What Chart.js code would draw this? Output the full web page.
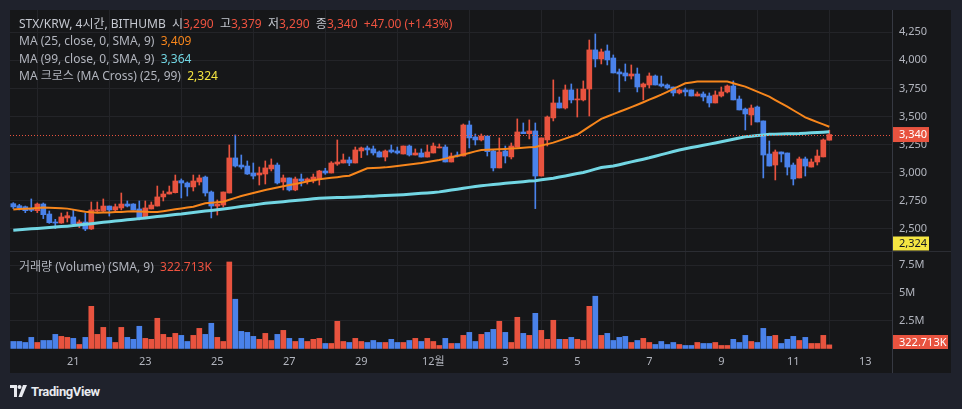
<!DOCTYPE html>
<html><head><meta charset="utf-8">
<script src="https://cdn.jsdelivr.net/npm/chart.js@4.4.1/dist/chart.umd.min.js"></script>
<style>
html,body{margin:0;padding:0;background:#1f222c;width:962px;height:409px;overflow:hidden;font-family:"Noto Sans","Noto Sans CJK KR",sans-serif;}
#frame{position:absolute;left:10px;top:10px;width:941px;height:363px;background:#161719;}
.cv{position:absolute;left:10px;}
#w1{top:10px;width:941px;height:241px}
#w2{top:252px;width:941px;height:121px}
#sep{position:absolute;left:10px;top:251px;width:941px;height:1px;background:#2b2d33}
#vline{position:absolute;left:892px;top:10px;width:1px;height:363px;background:#363942}
.leg{position:absolute;left:19px;font-size:12px;color:#b2b5be;white-space:nowrap;line-height:16px}
.r{color:#ef5340}
.o{color:#f7861c}
.c{color:#72d6e3}
.y{color:#f5e642}
#logo{position:absolute;left:10px;top:383px;height:16px;display:flex;align-items:center;color:#e8eaef;font-family:Roboto,"Noto Sans",sans-serif;font-weight:bold;font-size:13px;letter-spacing:-0.4px}
</style></head>
<body>
<div id="frame"></div>
<div class="cv" id="w1"><canvas id="c1" width="941" height="241"></canvas></div>
<div id="sep"></div>
<div class="cv" id="w2"><canvas id="c2" width="941" height="121"></canvas></div>
<div id="vline"></div>
<div class="leg" style="top:16px;color:#c5c8d0">STX/KRW, 4시간, BITHUMB&nbsp; 시<span class="r">3,290</span>&nbsp; 고<span class="r">3,379</span>&nbsp; 저<span class="r">3,290</span>&nbsp; 종<span class="r">3,340</span>&nbsp; <span class="r">+47.00 (+1.43%)</span></div>
<div class="leg" style="top:33px">MA (25, close, 0, SMA, 9)&nbsp; <span class="o">3,409</span></div>
<div class="leg" style="top:51px">MA (99, close, 0, SMA, 9)&nbsp; <span class="c">3,364</span></div>
<div class="leg" style="top:68px">MA 크로스 (MA Cross) (25, 99)&nbsp; <span class="y">2,324</span></div>
<div class="leg" style="top:259px">거래량 (Volume) (SMA, 9)&nbsp; <span class="r">322.713K</span></div>
<div id="logo"><svg width="18" height="12" viewBox="0 0 18 12"><path d="M0 0h7v12H4V3H0z" fill="#e8eaef"/><circle cx="9.5" cy="2" r="2" fill="#e8eaef"/><path d="M13 0h4l-5 12H8.5z" fill="#e8eaef"/></svg><span style="margin-left:3px">TradingView</span></div>
<script>
// ---- data (4-hour candles, STX/KRW, from Nov 19 08:00) ----
const open = [
2725,2707,2698,2681,2663,2722,2633,2562,2553,2598,
2607,2547,2562,2500,2660,2660,2704,2669,2687,2722,
2722,2678,2598,2678,2704,2785,2811,2823,2930,2909,
2874,2918,2962,2829,2704,2713,2820,3132,3069,3060,
2998,2980,2989,3034,3069,2918,2954,2847,2945,2927,
2927,2945,3016,2998,3078,3087,3114,3087,3194,3221,
3212,3185,3140,3203,3194,3167,3238,3158,3176,3140,
3176,3221,3229,3096,3158,3149,3425,3318,3292,3327,
3194,3043,3194,3141,3229,3363,3348,3372,2971,3292,
3488,3621,3576,3737,3648,3648,3745,4093,4012,4084,
4021,3897,3888,3861,3879,3763,3781,3861,3790,3781,
3763,3710,3737,3737,3683,3701,3683,3621,3683,3719,
3772,3656,3567,3514,3585,3461,3167,3069,3185,3176,
3069,2954,3123,3051,3096,3141,3290];
const high = [
2734,2719,2704,2767,2731,2731,2660,2586,2642,2651,
2669,2580,2642,2740,2740,2767,2704,2722,2820,2749,
2725,2749,2749,2740,2882,2838,2882,2980,2945,2918,
2980,2980,2971,2838,2758,2829,3247,3336,3158,3105,
3087,3051,3105,3123,3087,2980,2954,2962,2989,2954,
2989,3022,3040,3099,3292,3167,3140,3229,3229,3238,
3238,3194,3203,3247,3229,3238,3247,3212,3212,3247,
3265,3256,3247,3176,3185,3434,3461,3345,3345,3327,
3203,3310,3238,3265,3479,3443,3470,3443,3310,3505,
3826,3674,3781,3790,3745,3817,4181,4235,4101,4137,
4048,3923,3968,3959,3932,3799,3888,3870,3861,3790,
3763,3745,3754,3737,3719,3719,3710,3728,3763,3781,
3817,3683,3576,3603,3594,3461,3283,3203,3185,3176,
3087,3140,3140,3123,3203,3301,3379];
const low = [
2681,2669,2645,2654,2645,2592,2550,2503,2550,2562,
2540,2512,2485,2495,2651,2655,2615,2651,2669,2696,
2669,2580,2598,2678,2704,2749,2811,2820,2776,2793,
2838,2891,2793,2598,2624,2696,2820,3051,3034,2985,
2945,2891,2900,3016,2900,2847,2838,2840,2882,2900,
2910,2891,2986,2998,3066,3087,3063,3087,3135,3158,
3158,3140,3105,3176,3167,3167,3149,3158,3140,3140,
3176,3221,3096,3096,3140,3149,3221,3247,3283,3149,
3016,3043,3087,3123,3229,3348,3301,2681,2971,3238,
3461,3576,3567,3621,3496,3639,3505,3941,3968,3959,
3888,3719,3817,3834,3719,3648,3754,3781,3763,3745,
3683,3701,3683,3683,3683,3639,3585,3621,3674,3710,
3648,3559,3381,3425,3452,2954,3060,2936,3096,2980,
2891,2954,2971,3051,3069,3141,3290];
const close = [
2696,2687,2663,2666,2722,2627,2556,2553,2607,2618,
2547,2562,2500,2669,2672,2704,2669,2698,2722,2704,
2669,2598,2687,2713,2785,2811,2829,2927,2909,2874,
2927,2954,2820,2704,2722,2829,3132,3060,3051,2989,
2971,2998,3043,3069,2909,2954,2847,2945,2927,2945,
2962,3016,2998,3087,3096,3114,3087,3203,3221,3203,
3176,3140,3194,3185,3176,3238,3158,3176,3140,3185,
3238,3229,3096,3149,3149,3425,3310,3292,3327,3188,
3043,3185,3149,3238,3363,3348,3372,2971,3310,3496,
3621,3576,3737,3648,3656,3745,4093,4012,4075,4004,
3888,3879,3861,3879,3763,3790,3861,3781,3772,3754,
3710,3737,3719,3683,3701,3674,3621,3692,3719,3772,
3648,3559,3523,3576,3452,3158,3060,3185,3167,3051,
2945,3123,3060,3096,3149,3292,3340];
// volume in millions
const volume = [
0.63,0.63,0.54,1.0,0.54,0.72,0.72,1.27,1.09,1.0,
0.91,0.36,1.0,3.8,1.27,1.9,1.0,0.54,1.9,1.0,
0.82,2.0,0.91,0.82,2.72,1.27,1.0,1.36,1.18,0.63,
1.18,1.81,1.27,2.27,1.0,0.63,7.8,4.44,1.54,1.45,
1.09,0.82,1.36,0.72,1.27,1.63,0.91,0.63,0.91,0.63,
0.82,0.91,0.45,0.45,2.45,0.63,0.54,0.91,0.63,0.54,
0.72,0.54,0.54,0.82,0.54,0.54,0.72,0.91,0.63,0.91,
0.63,0.27,0.91,0.45,0.45,1.18,1.45,0.63,1.27,1.45,
1.72,2.45,1.45,0.54,2.81,1.36,1.18,3.17,1.63,0.82,
2.54,0.82,0.82,1.0,0.82,0.72,3.8,4.71,1.18,1.36,
0.72,1.0,1.09,0.54,0.72,0.91,0.54,0.36,0.63,0.36,
0.54,0.36,0.27,0.27,0.54,0.45,0.45,0.54,0.27,0.27,
0.82,0.54,1.18,0.63,0.54,1.81,1.09,1.18,0.45,0.82,
1.09,0.72,1.0,0.45,0.45,1.18,0.322713];
const ma25 = [
2674,2677,2680,2683,2687,2690,2689,2687,2684,2681,
2672,2663,2654,2649,2645,2646,2647,2650,2652,2655,
2657,2655,2653,2652,2651,2658,2666,2675,2683,2690,
2698,2713,2728,2733,2738,2743,2760,2777,2793,2806,
2820,2833,2847,2858,2869,2880,2891,2901,2912,2922,
2933,2943,2949,2955,2961,2968,2974,2996,3018,3040,
3043,3045,3048,3054,3061,3067,3074,3080,3087,3096,
3105,3114,3126,3138,3150,3163,3176,3190,3203,3205,
3207,3210,3212,3215,3219,3222,3226,3229,3242,3255,
3268,3286,3304,3322,3340,3375,3410,3445,3480,3501,
3522,3543,3563,3584,3605,3627,3650,3672,3695,3720,
3746,3771,3796,3804,3811,3812,3812,3812,3812,3811,
3796,3781,3766,3744,3722,3699,3677,3647,3618,3588,
3556,3525,3493,3472,3451,3430,3409];
const ma99 = [
2488,2492,2497,2501,2505,2509,2513,2517,2521,2525,
2530,2535,2541,2547,2553,2559,2565,2570,2575,2581,
2586,2592,2598,2604,2610,2616,2622,2628,2633,2640,
2646,2653,2659,2665,2671,2678,2685,2692,2700,2707,
2714,2721,2728,2733,2738,2743,2748,2753,2758,2763,
2768,2773,2775,2777,2779,2781,2783,2785,2787,2790,
2792,2795,2797,2800,2802,2805,2809,2813,2817,2821,
2825,2830,2838,2846,2854,2862,2870,2878,2885,2890,
2896,2901,2907,2912,2916,2921,2926,2930,2937,2944,
2952,2962,2972,2983,2993,3003,3017,3032,3046,3053,
3060,3072,3084,3097,3109,3121,3133,3147,3161,3175,
3189,3203,3213,3224,3234,3244,3255,3265,3276,3287,
3298,3309,3320,3325,3331,3336,3342,3343,3345,3346,
3348,3349,3352,3355,3358,3361,3364];
const maCross = 2324;
const priceTicks = [2500,2750,3000,3250,3500,3750,4000,4250];
const volTicks = [2.5,5,7.5];
const volTickLabels = ['2.5M','5M','7.5M'];
const dateTickIdx = [10,22,34,46,58,70,82,94,106,118,130,142];
const dateTickLabels = ['21','23','25','27','29','12월','3','5','7','9','11','13'];

// ---- styling ----
const RED='#e8533f', BLUE='#4a82ea', ORANGE='#f7861c', CYAN='#72d6e3', YEL='#f5e642';
const GRID='#232428', TXT='#b2b5be';
const FONT='"Noto Sans","Noto Sans CJK KR",sans-serif';
const XMIN=-0.55, XMAX=146.45;
const idx = open.map((_,i)=>i);
const cols = idx.map(i=> close[i]>=open[i] ? RED : BLUE);
const fmt = v => v.toLocaleString('en-US');

function boxLabel(ctx, x, y, w, h, bg, fg, text){
  ctx.save();
  ctx.fillStyle=bg; ctx.fillRect(x, y-h/2, w, h);
  ctx.fillStyle=fg; ctx.font='11px '+FONT; ctx.textBaseline='middle'; ctx.textAlign='left';
  ctx.fillText(text, x+7, y+0.5);
  ctx.restore();
}

const pricePlugin = {
  id:'priceOverlay',
  afterDraw(chart){
    const {ctx, chartArea:a, scales:{y}} = chart;
    const last = close[close.length-1];
    const py = y.getPixelForValue(last);
    ctx.save();
    ctx.strokeStyle=RED; ctx.lineWidth=1; ctx.setLineDash([1,2]);
    ctx.beginPath(); ctx.moveTo(a.left, Math.round(py)+0.5); ctx.lineTo(a.right, Math.round(py)+0.5); ctx.stroke();
    ctx.restore();
    boxLabel(ctx, a.right, py, 37, 15, RED, '#ffffff', fmt(last));
    let cy = y.getPixelForValue(maCross);
    cy = Math.min(cy, a.bottom-7.5);
    boxLabel(ctx, a.right, cy, 37, 14, YEL, '#131722', fmt(maCross));
  }
};
const volPlugin = {
  id:'volOverlay',
  afterDraw(chart){
    const {ctx, chartArea:a, scales:{y}} = chart;
    const v = volume[volume.length-1];
    let vy = y.getPixelForValue(v);
    vy = Math.min(vy, a.bottom-7);
    boxLabel(ctx, a.right, vy, 56, 14, RED, '#ffffff', (v*1000).toFixed(3)+'K');
  }
};

const noPad = s => { s.paddingTop=0; s.paddingBottom=0; s.paddingLeft=0; s.paddingRight=0; };
const xCommon = {
  type:'linear', min:XMIN, max:XMAX, offset:false,
  afterBuildTicks: s => { s.ticks = dateTickIdx.map(v=>({value:v})); },
  grid:{color:GRID, drawTicks:false}, border:{display:false}
};

new Chart(document.getElementById('c1'), {
  data:{ datasets:[
    {type:'line', label:'MA25', data: ma25.map((v,i)=>({x:i,y:v})), borderColor:ORANGE, borderWidth:2, pointRadius:0, order:0},
    {type:'line', label:'MA99', data: ma99.map((v,i)=>({x:i,y:v})), borderColor:CYAN, borderWidth:3, pointRadius:0, order:1},
    {type:'bar', label:'body', data: idx.map(i=>({x:i,y:[open[i],close[i]]})), backgroundColor:cols, barThickness:5, grouped:false, minBarLength:1, order:5},
    {type:'bar', label:'wick', data: idx.map(i=>({x:i,y:[low[i],high[i]]})), backgroundColor:cols, barThickness:1, grouped:false, order:6}
  ]},
  options:{
    responsive:false, animation:false, events:[],
    layout:{padding:0, autoPadding:false},
    plugins:{legend:{display:false}, tooltip:{enabled:false}},
    scales:{
      x: Object.assign({}, xCommon, {ticks:{display:false}, afterFit: s=>{s.height=0; noPad(s);}}),
      y: { type:'linear', position:'right', min:2304, max:4448,
        afterBuildTicks: s => { s.ticks = priceTicks.map(v=>({value:v})); },
        afterFit: s=>{ s.width=59; noPad(s); },
        grid:{color:GRID, drawTicks:false}, border:{color:'#363942'},
        ticks:{color:TXT, padding:7, font:{size:11, family:FONT}, callback: v=>fmt(v)} }
    }
  },
  plugins:[pricePlugin]
});

new Chart(document.getElementById('c2'), {
  data:{ datasets:[
    {type:'bar', label:'volume', data: idx.map(i=>({x:i,y:volume[i]})), backgroundColor:cols, barThickness:5, grouped:false}
  ]},
  options:{
    responsive:false, animation:false, events:[],
    layout:{padding:0, autoPadding:false},
    plugins:{legend:{display:false}, tooltip:{enabled:false}},
    scales:{
      x: Object.assign({}, xCommon, {
        afterFit: s=>{s.height=24; noPad(s);},
        ticks:{color:TXT, padding:6, maxRotation:0, autoSkip:false, font:{size:11, family:FONT},
          callback: v => { const k = dateTickIdx.indexOf(v); return k>=0 ? dateTickLabels[k] : ''; } } }),
      y: { type:'linear', position:'right', min:-0.05, max:8.7,
        afterBuildTicks: s => { s.ticks = volTicks.map(v=>({value:v})); },
        afterFit: s=>{ s.width=59; noPad(s); },
        grid:{color:GRID, drawTicks:false}, border:{color:'#363942'},
        ticks:{color:TXT, padding:7, font:{size:11, family:FONT},
          callback: v => { const k = volTicks.indexOf(v); return k>=0 ? volTickLabels[k] : ''; } } }
    }
  },
  plugins:[volPlugin]
});
</script>
</body></html>
